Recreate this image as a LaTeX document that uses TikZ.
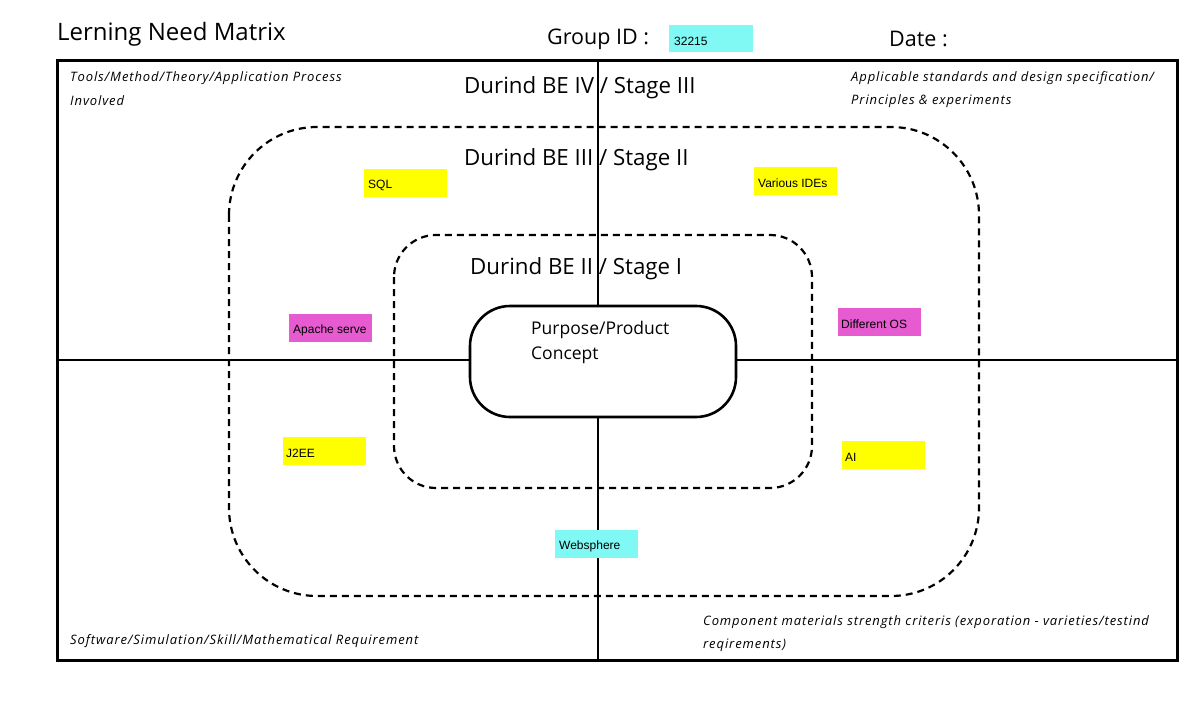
\documentclass[tikz,border=0pt]{standalone}
\usepackage{fontspec}
\setmainfont{Open Sans}
\newfontfamily\arialf{Liberation Sans}
\newfontfamily\spacedit[LetterSpace=7]{Open Sans Italic}
\definecolor{tagyellow}{HTML}{FFFF00}
\definecolor{tagpink}{HTML}{E65BCF}
\definecolor{tagcyan}{HTML}{80F8F4}
\tikzset{
  tag/.style={fill=#1, minimum width=83pt, minimum height=28pt, inner sep=0pt},
  tagtext/.style={anchor=west, font=\arialf\fontsize{12}{14}\selectfont, inner sep=0pt},
  corner/.style={anchor=west, inner sep=0pt, font=\spacedit\fontsize{13}{15}\selectfont},
  stage/.style={anchor=west, inner sep=0pt, font=\fontsize{22.3}{25}\selectfont},
  head/.style={anchor=west, inner sep=0pt, font=\fontsize{21.5}{24}\selectfont},
  ring/.style={draw, dashed, line width=2.2pt, dash pattern=on 7pt off 5pt},
  axis/.style={line width=1.8pt},
}
\begin{document}
\begin{tikzpicture}[x=1pt,y=-1pt]
\useasboundingbox (0,0) rectangle (1191,722);
% header
\node[anchor=west, inner sep=0pt, font=\fontsize{24}{27}\selectfont] (title) at (57,34.5) {Lerning Need Matrix};
\node[head] (gid) at (547,39) {Group ID :};
\node[fill=tagcyan, minimum width=84pt, minimum height=27pt, inner sep=0pt] (gidbox) at (711,38.5) {};
\node[tagtext] (gidval) at (674,41) {32215};
\node[head] (date) at (889,38.5) {Date :};
% frame
\draw[line width=3pt] (57,61) rectangle (1177,660);
\coordinate (vt) at (598,61);
\coordinate (vb) at (598,660);
\coordinate (hl) at (57,360);
\coordinate (hr) at (1177,360);
% dashed rings
\draw[ring, rounded corners=88pt] (229,127) rectangle (979,596);
\draw[ring, rounded corners=42pt] (394,235) rectangle (812,488);
% center node
\node[draw, line width=2.6pt, rounded corners=40pt, minimum width=266pt, minimum height=111pt, fill=white, inner sep=0pt] (core) at (603,361.5) {};
\draw[axis] (vt) -- (vt |- core.north);
\draw[axis] (vb |- core.south) -- (vb);
\draw[axis] (hl) -- (hl -| core.west);
\draw[axis] (hr -| core.east) -- (hr);
\node[anchor=west, inner sep=0pt, font=\fontsize{17.5}{20}\selectfont] (pp) at (531,330) {Purpose/Product};
\node[anchor=west, inner sep=0pt, font=\fontsize{17.5}{20}\selectfont] (cc) at (531,355) {Concept};
% stage labels
\node[stage] (s4) at (464,87.5) {Durind BE IV / Stage III};
\node[stage] (s3) at (464,159.5) {Durind BE III / Stage II};
\node[stage] (s2) at (470,268.5) {Durind BE II / Stage I};
% corner texts
\node[corner] (c1a) at (70,78) {Tools/Method/Theory/Application Process};
\node[corner] (c1b) at (70,101) {Involved};
\node[corner] (c2a) at (851,78) {Applicable standards and design specification/};
\node[corner] (c2b) at (851,101) {Principles \& experiments};
\node[corner] (c3) at (70,641) {Software/Simulation/Skill/Mathematical Requirement};
\node[corner] (c4a) at (703,622) {Component materials strength criteris (exporation - varieties/testind};
\node[corner] (c4b) at (703,645) {reqirements)};
% tags
\node[tag=tagyellow] (sql) at (405.5,183) {};
\node[tagtext] at (368,185) {SQL};
\node[tag=tagyellow] (ide) at (795.5,181) {};
\node[tagtext] at (758,183) {Various IDEs};
\node[tag=tagpink] (apache) at (330.5,328) {};
\node[tagtext] at (293,330) {Apache serve};
\node[tag=tagpink] (os) at (879,322) {};
\node[tagtext] at (841,324) {Different OS};
\node[tag=tagyellow] (j2ee) at (324,451) {};
\node[tagtext] at (286,453) {J2EE};
\node[tag=tagyellow] (ai) at (883,454.5) {};
\node[tagtext] at (845,457) {AI};
\node[tag=tagcyan] (ws) at (596.5,544) {};
\node[tagtext] at (559,546) {Websphere};
\end{tikzpicture}
\end{document}
